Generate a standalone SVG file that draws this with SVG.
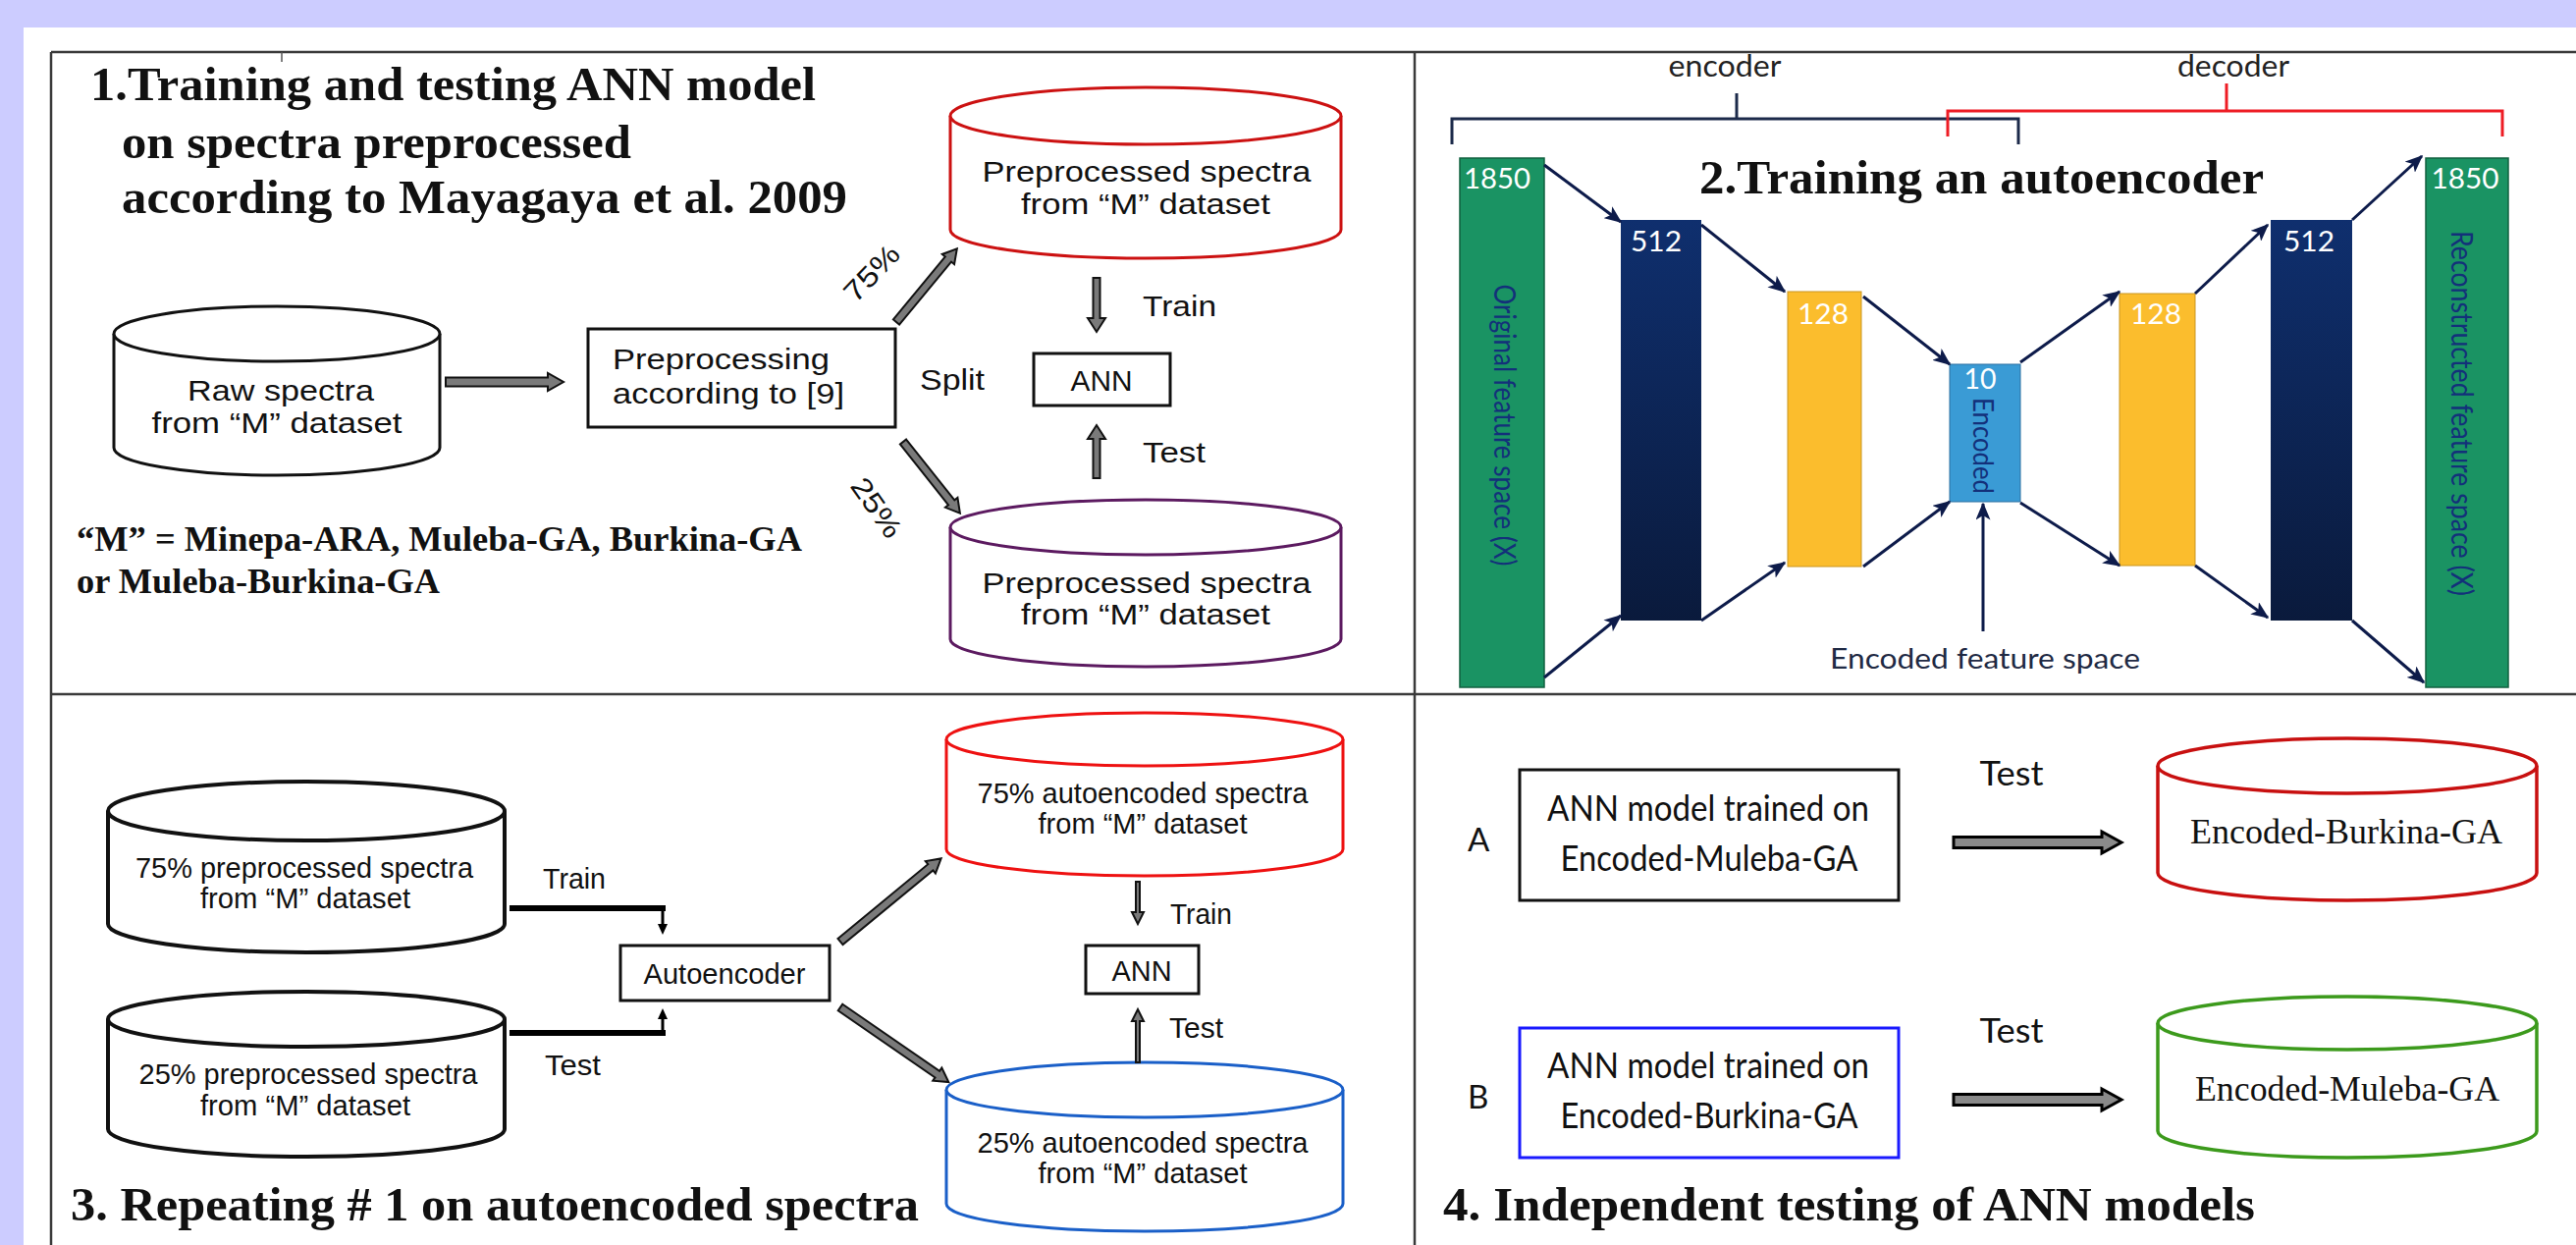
<svg xmlns="http://www.w3.org/2000/svg" width="2624" height="1268" viewBox="0 0 2624 1268">
<defs>
<style>
.frame{stroke:#3a3a3a;stroke-width:2.5;fill:none}
.cyl{fill:#fff;stroke-width:3}
.box{fill:#fff;stroke:#111;stroke-width:3}
.sans{font-family:"Liberation Sans",Arial,sans-serif;fill:#111;font-size:29px}
.s3{font-size:30px}
.cal{font-family:Lato,"Liberation Sans",sans-serif;fill:#111;font-size:30px}
.tb{font-family:"Liberation Serif","Times New Roman",serif;font-weight:bold;fill:#111;font-size:48px}
.ser{font-family:"Liberation Serif","Times New Roman",serif;fill:#111;font-size:36px}
.barr{fill:#7a7a7a;stroke:#111;stroke-width:2}
.barr4{fill:#8a8a8a;stroke:#000;stroke-width:3}
.nav{stroke:#0d1b4a;stroke-width:3;fill:none;marker-end:url(#ah)}
.num{font-family:Lato,"Liberation Sans",sans-serif;fill:#fff;font-size:28px}
.vt{font-family:Lato,"Liberation Sans",sans-serif;fill:#13307a;font-size:30px}
</style>
<linearGradient id="navy" x1="0" y1="0" x2="0" y2="1">
<stop offset="0" stop-color="#0f2f6e"/>
<stop offset="1" stop-color="#0a1a3c"/>
</linearGradient>
<marker id="ah" viewBox="0 0 12 10" refX="11" refY="5" markerWidth="6" markerHeight="5" orient="auto">
<path d="M0,0 L12,5 L0,10 L3,5 Z" fill="#0d1b4a"/>
</marker>
</defs>

<rect x="0" y="0" width="2624" height="1268" fill="#ccccff"/>
<rect x="24" y="28" width="2600" height="1240" fill="#fff"/>

<g id="frame">
<line class="frame" x1="52" y1="53" x2="2624" y2="53"/>
<line class="frame" x1="52" y1="53" x2="52" y2="1268"/>
<line class="frame" x1="52" y1="707" x2="2624" y2="707"/>
<line class="frame" x1="1441" y1="53" x2="1441" y2="1268"/>
<line x1="287" y1="53" x2="287" y2="63" stroke="#555" stroke-width="1.5"/>
</g>

<!-- Panel 1 -->
<g id="title1">
<text class="tb" x="92" y="102" textLength="739" lengthAdjust="spacingAndGlyphs">1.Training and testing ANN model</text>
<text class="tb" x="124" y="161" textLength="519" lengthAdjust="spacingAndGlyphs">on spectra preprocessed</text>
<text class="tb" x="124" y="217" textLength="739" lengthAdjust="spacingAndGlyphs">according to Mayagaya et al. 2009</text>
</g>
<g id="note1">
<text class="tb" style="font-size:35px" x="78" y="561" textLength="739" lengthAdjust="spacingAndGlyphs">“M” = Minepa-ARA, Muleba-GA, Burkina-GA</text>
<text class="tb" style="font-size:35px" x="78" y="604" textLength="370" lengthAdjust="spacingAndGlyphs">or Muleba-Burkina-GA</text>
</g>
<g id="raw">
<path class="cyl" stroke="#111" d="M116,340 V456 A166,28 0 0 0 448,456 V340"/>
<ellipse class="cyl" stroke="#111" cx="282" cy="340" rx="166" ry="28"/>
<text class="sans" x="286" y="408" text-anchor="middle" textLength="190" lengthAdjust="spacingAndGlyphs">Raw spectra</text>
<text class="sans" x="282" y="441" text-anchor="middle" textLength="255" lengthAdjust="spacingAndGlyphs">from “M” dataset</text>
</g>
<g id="prep">
<rect class="box" x="599" y="335" width="313" height="100"/>
<text class="sans" x="624" y="376" textLength="221" lengthAdjust="spacingAndGlyphs">Preprocessing</text>
<text class="sans" x="624" y="411" textLength="236" lengthAdjust="spacingAndGlyphs">according to [9]</text>
</g>
<g id="train1">
<path class="cyl" stroke="#cc1111" d="M968,118 V234 A199,29 0 0 0 1366,234 V118"/>
<ellipse class="cyl" stroke="#cc1111" cx="1167" cy="118" rx="199" ry="29"/>
<text class="sans" x="1168" y="185" text-anchor="middle" textLength="335" lengthAdjust="spacingAndGlyphs">Preprocessed spectra</text>
<text class="sans" x="1167" y="218" text-anchor="middle" textLength="254" lengthAdjust="spacingAndGlyphs">from “M” dataset</text>
</g>
<g id="test1">
<path class="cyl" stroke="#5c1a60" d="M968,537 V651 A199,28 0 0 0 1366,651 V537"/>
<ellipse class="cyl" stroke="#5c1a60" cx="1167" cy="537" rx="199" ry="28"/>
<text class="sans" x="1168" y="604" text-anchor="middle" textLength="335" lengthAdjust="spacingAndGlyphs">Preprocessed spectra</text>
<text class="sans" x="1167" y="636" text-anchor="middle" textLength="254" lengthAdjust="spacingAndGlyphs">from “M” dataset</text>
</g>
<g id="ann1">
<rect class="box" x="1053" y="360" width="139" height="53"/>
<text class="sans" x="1122" y="398" text-anchor="middle" textLength="63" lengthAdjust="spacingAndGlyphs">ANN</text>
</g>

<!-- Panel 2 -->
<g id="brackets">
<polyline points="1479,147 1479,121 2056,121 2056,147" fill="none" stroke="#1c2a4a" stroke-width="3"/>
<line x1="1769" y1="121" x2="1769" y2="95" stroke="#1c2a4a" stroke-width="3"/>
<polyline points="1984,139 1984,113 2549,113 2549,139" fill="none" stroke="#ee1c24" stroke-width="3"/>
<line x1="2268" y1="113" x2="2268" y2="85" stroke="#ee1c24" stroke-width="3"/>
<text class="cal" x="1757" y="78" text-anchor="middle" textLength="115" lengthAdjust="spacingAndGlyphs" style="fill:#222">encoder</text>
<text class="cal" x="2275" y="78" text-anchor="middle" textLength="114" lengthAdjust="spacingAndGlyphs" style="fill:#222">decoder</text>
</g>
<g id="title2">
<text class="tb" x="1731" y="197" textLength="575" lengthAdjust="spacingAndGlyphs">2.Training an autoencoder</text>
</g>
<g id="in1850">
<rect x="1487" y="161" width="86" height="539" fill="#1a9363" stroke="#10603f" stroke-width="1.5"/>
<text class="num" x="1525" y="192" text-anchor="middle" textLength="68" lengthAdjust="spacingAndGlyphs">1850</text>
<text class="vt" transform="translate(1522,433) rotate(90)" text-anchor="middle" textLength="287" lengthAdjust="spacingAndGlyphs">Original feature space (X)</text>
</g>
<g id="enc512">
<rect x="1651" y="224" width="82" height="408" fill="url(#navy)"/>
<text class="num" x="1687" y="256" text-anchor="middle" textLength="52" lengthAdjust="spacingAndGlyphs">512</text>
</g>
<g id="enc128">
<rect x="1821" y="297" width="75" height="280" fill="#fbbd2d" stroke="#c99520" stroke-width="1"/>
<text class="num" x="1857" y="330" text-anchor="middle" textLength="52" lengthAdjust="spacingAndGlyphs">128</text>
</g>
<g id="code10">
<rect x="1986" y="371" width="72" height="140" fill="#3a9bd5" stroke="#2a6fa0" stroke-width="1"/>
<text class="num" x="2017" y="396" text-anchor="middle" textLength="33" lengthAdjust="spacingAndGlyphs">10</text>
<text class="vt" transform="translate(2010,454) rotate(90)" text-anchor="middle" textLength="98" lengthAdjust="spacingAndGlyphs" style="font-size:28px">Encoded</text>
</g>
<g id="dec128">
<rect x="2159" y="299" width="77" height="277" fill="#fbbd2d" stroke="#c99520" stroke-width="1"/>
<text class="num" x="2196" y="330" text-anchor="middle" textLength="52" lengthAdjust="spacingAndGlyphs">128</text>
</g>
<g id="dec512">
<rect x="2313" y="224" width="83" height="408" fill="url(#navy)"/>
<text class="num" x="2352" y="256" text-anchor="middle" textLength="52" lengthAdjust="spacingAndGlyphs">512</text>
</g>
<g id="out1850">
<rect x="2471" y="161" width="84" height="539" fill="#1a9363" stroke="#10603f" stroke-width="1.5"/>
<text class="num" x="2511" y="192" text-anchor="middle" textLength="69" lengthAdjust="spacingAndGlyphs">1850</text>
<text class="vt" transform="translate(2497,421) rotate(90)" text-anchor="middle" textLength="372" lengthAdjust="spacingAndGlyphs">Reconstructed  feature space (X)</text>
</g>
<g id="efs">
<text class="cal" x="2022" y="681" text-anchor="middle" textLength="316" lengthAdjust="spacingAndGlyphs" style="fill:#1f2a44;font-size:29px">Encoded feature space</text>
</g>

<!-- Panel 3 -->
<g id="pre75">
<path class="cyl" stroke="#111" style="stroke-width:4" d="M110,826 V941 A202,29 0 0 0 514,941 V826"/>
<ellipse class="cyl" stroke="#111" style="stroke-width:4" cx="312" cy="826" rx="202" ry="30"/>
<text class="sans s3" x="310" y="894" text-anchor="middle" textLength="344" lengthAdjust="spacingAndGlyphs">75% preprocessed spectra</text>
<text class="sans s3" x="311" y="925" text-anchor="middle" textLength="214" lengthAdjust="spacingAndGlyphs">from “M” dataset</text>
</g>
<g id="pre25">
<path class="cyl" stroke="#111" style="stroke-width:4" d="M110,1038 V1150 A202,28 0 0 0 514,1150 V1038"/>
<ellipse class="cyl" stroke="#111" style="stroke-width:4" cx="312" cy="1038" rx="202" ry="28"/>
<text class="sans s3" x="314" y="1104" text-anchor="middle" textLength="345" lengthAdjust="spacingAndGlyphs">25% preprocessed spectra</text>
<text class="sans s3" x="311" y="1136" text-anchor="middle" textLength="214" lengthAdjust="spacingAndGlyphs">from “M” dataset</text>
</g>
<g id="autoenc">
<rect class="box" x="632" y="963" width="213" height="56"/>
<text class="sans s3" x="738" y="1002" text-anchor="middle" textLength="165" lengthAdjust="spacingAndGlyphs">Autoencoder</text>
</g>
<g id="ae75">
<path class="cyl" stroke="#ee1111" d="M964,753 V865 A202,27 0 0 0 1368,865 V753"/>
<ellipse class="cyl" stroke="#ee1111" cx="1166" cy="753" rx="202" ry="27"/>
<text class="sans s3" x="1164" y="818" text-anchor="middle" textLength="337" lengthAdjust="spacingAndGlyphs">75% autoencoded spectra</text>
<text class="sans s3" x="1164" y="849" text-anchor="middle" textLength="213" lengthAdjust="spacingAndGlyphs">from “M” dataset</text>
</g>
<g id="ae25">
<path class="cyl" stroke="#1a5fc8" d="M964,1110 V1226 A202,28 0 0 0 1368,1226 V1110"/>
<ellipse class="cyl" stroke="#1a5fc8" cx="1166" cy="1110" rx="202" ry="28"/>
<text class="sans s3" x="1164" y="1174" text-anchor="middle" textLength="337" lengthAdjust="spacingAndGlyphs">25% autoencoded spectra</text>
<text class="sans s3" x="1164" y="1205" text-anchor="middle" textLength="213" lengthAdjust="spacingAndGlyphs">from “M” dataset</text>
</g>
<g id="ann3">
<rect class="box" x="1106" y="963" width="115" height="49"/>
<text class="sans s3" x="1163" y="999" text-anchor="middle" textLength="61" lengthAdjust="spacingAndGlyphs">ANN</text>
</g>
<g id="title3">
<text class="tb" x="72" y="1243" textLength="864" lengthAdjust="spacingAndGlyphs">3. Repeating # 1 on autoencoded spectra</text>
</g>

<!-- Panel 4 -->
<g id="modelA">
<text class="cal" x="1495" y="867" style="font-size:33px">A</text>
<rect class="box" x="1548" y="784" width="386" height="133"/>
<text class="cal" x="1740" y="836" text-anchor="middle" textLength="328" lengthAdjust="spacingAndGlyphs" style="font-size:37px">ANN model trained on</text>
<text class="cal" x="1741" y="887" text-anchor="middle" textLength="303" lengthAdjust="spacingAndGlyphs" style="font-size:37px">Encoded-Muleba-GA</text>
</g>
<g id="dsA">
<path class="cyl" stroke="#c81010" style="stroke-width:3.5" d="M2198,780 V889 A193,28 0 0 0 2584,889 V780"/>
<ellipse class="cyl" stroke="#c81010" style="stroke-width:3.5" cx="2391" cy="780" rx="193" ry="28"/>
<text class="ser" x="2390" y="859" text-anchor="middle" textLength="318" lengthAdjust="spacingAndGlyphs">Encoded-Burkina-GA</text>
</g>
<g id="modelB">
<text class="cal" x="1495" y="1129" style="font-size:33px">B</text>
<rect class="box" x="1548" y="1047" width="386" height="132" style="stroke:#1a1aff"/>
<text class="cal" x="1740" y="1098" text-anchor="middle" textLength="328" lengthAdjust="spacingAndGlyphs" style="font-size:37px">ANN model trained on</text>
<text class="cal" x="1741" y="1149" text-anchor="middle" textLength="303" lengthAdjust="spacingAndGlyphs" style="font-size:37px">Encoded-Burkina-GA</text>
</g>
<g id="dsB">
<path class="cyl" stroke="#3c9a1c" style="stroke-width:3.5" d="M2198,1042 V1152 A193,27 0 0 0 2584,1152 V1042"/>
<ellipse class="cyl" stroke="#3c9a1c" style="stroke-width:3.5" cx="2391" cy="1042" rx="193" ry="27"/>
<text class="ser" x="2391" y="1121" text-anchor="middle" textLength="310" lengthAdjust="spacingAndGlyphs">Encoded-Muleba-GA</text>
</g>
<g id="title4">
<text class="tb" x="1470" y="1243" textLength="827" lengthAdjust="spacingAndGlyphs">4. Independent testing of ANN models</text>
</g>

<g id="connectors">
<!-- panel 1 -->
<path class="barr" transform="translate(454,389)" d="M0,-4.5 H104 V-9 L120,0 L104,9 V4.5 H0 Z"/>
<path class="barr" transform="translate(913,328) rotate(-50.4)" d="M0,-4 H83 V-8 L97,0 L83,8 V4 H0 Z"/>
<path class="barr" transform="translate(920,450) rotate(51.5)" d="M0,-4 H79 V-8 L93,0 L79,8 V4 H0 Z"/>
<path class="barr" transform="translate(1117,283) rotate(90)" d="M0,-3.5 H41 V-9 L55,0 L41,9 V3.5 H0 Z"/>
<path class="barr" transform="translate(1117,487) rotate(-90)" d="M0,-3.5 H40 V-9 L54,0 L40,9 V3.5 H0 Z"/>
<text class="sans" transform="translate(888,278) rotate(-46)" y="10" text-anchor="middle" textLength="68" lengthAdjust="spacingAndGlyphs">75%</text>
<text class="sans" transform="translate(893,517) rotate(55)" y="10" text-anchor="middle" textLength="68" lengthAdjust="spacingAndGlyphs">25%</text>
<text class="sans" x="937" y="397" textLength="66" lengthAdjust="spacingAndGlyphs">Split</text>
<text class="sans" x="1164" y="322" textLength="75" lengthAdjust="spacingAndGlyphs">Train</text>
<text class="sans" x="1164" y="471" textLength="64" lengthAdjust="spacingAndGlyphs">Test</text>
<!-- panel 2 -->
<line class="nav" x1="1573" y1="168" x2="1651" y2="226"/>
<line class="nav" x1="1573" y1="690" x2="1651" y2="627"/>
<line class="nav" x1="1733" y1="229" x2="1818" y2="297"/>
<line class="nav" x1="1733" y1="632" x2="1818" y2="573"/>
<line class="nav" x1="1898" y1="302" x2="1986" y2="371"/>
<line class="nav" x1="1898" y1="577" x2="1986" y2="511"/>
<line class="nav" x1="2058" y1="369" x2="2159" y2="297"/>
<line class="nav" x1="2058" y1="512" x2="2159" y2="576"/>
<line class="nav" x1="2236" y1="299" x2="2310" y2="229"/>
<line class="nav" x1="2236" y1="576" x2="2310" y2="629"/>
<line class="nav" x1="2396" y1="224" x2="2467" y2="159"/>
<line class="nav" x1="2396" y1="632" x2="2469" y2="695"/>
<line class="nav" x1="2020" y1="643" x2="2020" y2="513"/>
<!-- panel 3 -->
<line x1="519" y1="925" x2="678" y2="925" stroke="#000" stroke-width="6"/>
<line x1="675" y1="925" x2="675" y2="943" stroke="#000" stroke-width="3"/>
<polygon points="670,941 680,941 675,952" fill="#000"/>
<line x1="519" y1="1052" x2="678" y2="1052" stroke="#000" stroke-width="6"/>
<line x1="675" y1="1052" x2="675" y2="1036" stroke="#000" stroke-width="3"/>
<polygon points="670,1038 680,1038 675,1027" fill="#000"/>
<text class="sans s3" x="553" y="905" textLength="64" lengthAdjust="spacingAndGlyphs">Train</text>
<text class="sans s3" x="555" y="1095" textLength="57" lengthAdjust="spacingAndGlyphs">Test</text>
<path class="barr" transform="translate(856,959) rotate(-39.5)" d="M0,-4 H119 V-8 L133,0 L119,8 V4 H0 Z"/>
<path class="barr" transform="translate(856,1026) rotate(34.6)" d="M0,-4 H120 V-8 L134,0 L120,8 V4 H0 Z"/>
<path class="barr" transform="translate(1159,898) rotate(90)" d="M0,-2 H31 V-6 L43,0 L31,6 V2 H0 Z"/>
<path class="barr" transform="translate(1159,1082) rotate(-90)" d="M0,-2 H42 V-6 L54,0 L42,6 V2 H0 Z"/>
<text class="sans s3" x="1192" y="941" textLength="63" lengthAdjust="spacingAndGlyphs">Train</text>
<text class="sans s3" x="1191" y="1057" textLength="55" lengthAdjust="spacingAndGlyphs">Test</text>
<!-- panel 4 -->
<path class="barr4" transform="translate(1990,858)" d="M0,-5.5 H151 V-11 L171,0 L151,11 V5.5 H0 Z"/>
<path class="barr4" transform="translate(1990,1120)" d="M0,-5.5 H151 V-11 L171,0 L151,11 V5.5 H0 Z"/>
<text class="cal" x="2049" y="800" text-anchor="middle" textLength="65" lengthAdjust="spacingAndGlyphs" style="font-size:34px">Test</text>
<text class="cal" x="2049" y="1062" text-anchor="middle" textLength="65" lengthAdjust="spacingAndGlyphs" style="font-size:34px">Test</text>
</g>
</svg>
